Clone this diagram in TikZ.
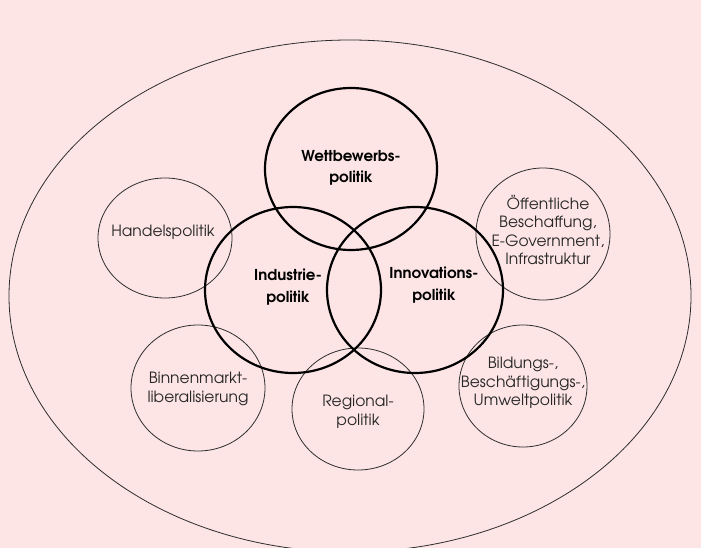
\documentclass[tikz,border=0pt]{standalone}
\usepackage{fontspec}
\setmainfont{texgyreadventor}[Extension=.otf, UprightFont=*-regular, BoldFont=*-bold]
\usetikzlibrary{shapes.geometric}

\definecolor{rosa}{RGB}{253,228,229}
\definecolor{strich}{RGB}{45,45,45}

\begin{document}
\begin{tikzpicture}[x=1pt, y=-1pt,
    kreis/.style={draw=strich, line width=0.8pt, ellipse, inner sep=0pt},
    kern/.style={draw=black, line width=2.2pt, ellipse, inner sep=0pt},
    txt/.style={align=center, text=black!85, font=\fontsize{15.5}{18.5}\selectfont},
    btxt/.style={align=center, text=black, font=\fontsize{15}{21.5}\selectfont\bfseries}]
  \fill[rosa] (0,0) rectangle (701,548);
  \useasboundingbox (0,0) rectangle (701,548);
  \clip (0,0) rectangle (701,548);
  % outer frame
  \node[kreis, minimum width=682pt, minimum height=512pt] (rahmen) at (350,296) {};
  % surrounding policy fields
  \node[kreis, minimum width=134pt, minimum height=120pt] (handel) at (165,238) {};
  \node[kreis, minimum width=134pt, minimum height=126pt] (binnen) at (198,388) {};
  \node[kreis, minimum width=132pt, minimum height=122pt] (region) at (358,409) {};
  \node[kreis, minimum width=134pt, minimum height=132pt] (oeff) at (543,234) {};
  \node[kreis, minimum width=128pt, minimum height=122pt] (bildung) at (523,386) {};
  % core triad
  \node[kern, minimum width=172pt, minimum height=162pt] (wett) at (351,169) {};
  \node[kern, minimum width=176pt, minimum height=166pt] (indu) at (293,290) {};
  \node[kern, minimum width=176pt, minimum height=166pt] (inno) at (415,290) {};
  % labels
  \node[btxt] (wett-t) at (351,168) {Wettbewerbs-\\politik};
  \node[btxt] (indu-t) at (288,287) {Industrie-\\politik};
  \node[btxt] (inno-t) at (434,285) {Innovations-\\politik};
  \node[txt] (handel-t) at (163,232) {Handelspolitik};
  \node[txt] (binnen-t) at (198,389) {Binnenmarkt-\\liberalisierung};
  \node[txt] (region-t) at (358,412) {Regional-\\politik};
  \node[txt] (oeff-t) at (548,230) {Öffentliche\\Beschaffung,\\E-Government,\\Infrastruktur};
  \node[txt] (bildung-t) at (523,383) {Bildungs-,\\Beschäftigungs-,\\Umweltpolitik};
\end{tikzpicture}
\end{document}
